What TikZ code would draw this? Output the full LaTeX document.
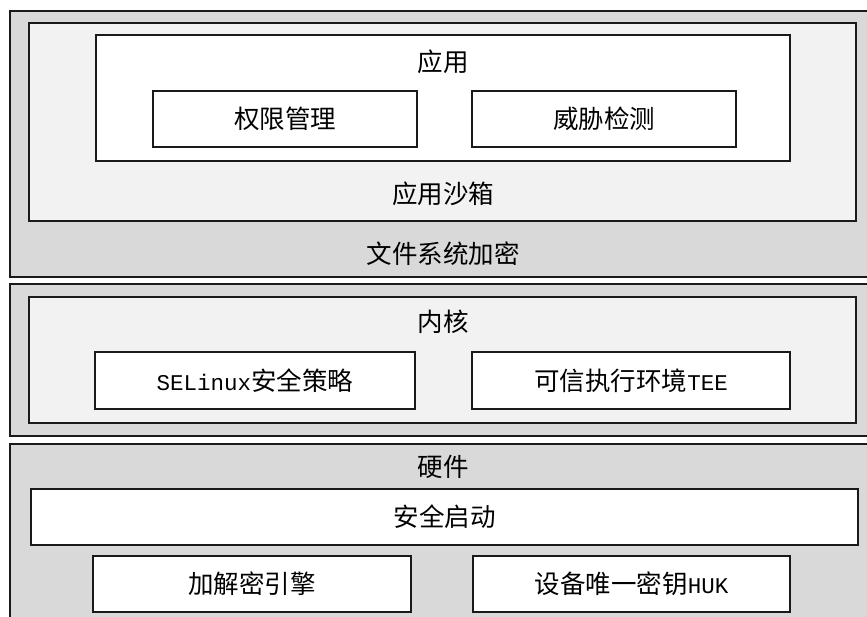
\documentclass[tikz,border=0pt]{standalone}
\usepackage{fontspec}
\setmainfont{Noto Sans CJK SC}
\newfontfamily\latfont{Liberation Mono}
\newcommand{\lat}[1]{{\latfont\fontsize{22.5}{26}\selectfont #1}}
\definecolor{outergray}{HTML}{D9D9D9}
\definecolor{innergray}{HTML}{F2F2F2}
\definecolor{edge}{HTML}{1A1A1A}
\begin{document}
\begin{tikzpicture}[x=1pt,y=-1pt,
  every node/.style={font=\fontsize{25.5}{28}\selectfont, inner sep=0pt},
  box/.style={draw=edge, line width=1.4pt, rectangle},
  outerbox/.style={box, fill=outergray},
  innerbox/.style={box, fill=innergray},
  whitebox/.style={box, fill=white},
  lbl/.style={}]
\useasboundingbox (0,0) rectangle (867,616);
\clip (0,0) rectangle (867,616);
% layer 1
\node[outerbox, minimum width=870pt, minimum height=266pt] (o1) at (445,144) {};
\node[innerbox, minimum width=827pt, minimum height=198pt] (sb) at (442.5,122) {};
\node[whitebox, minimum width=694pt, minimum height=126pt] (app) at (443,98) {};
\node[whitebox, minimum width=264pt, minimum height=56pt] (perm) at (285,119) {权限管理};
\node[whitebox, minimum width=264pt, minimum height=56pt] (threat) at (604,119) {威胁检测};
\node[lbl] (appl) at (443,62) {应用};
\node[lbl] (sbl) at (443,194) {应用沙箱};
\node[lbl] (fsl) at (443,254) {文件系统加密};
% layer 2
\node[outerbox, minimum width=870pt, minimum height=152pt] (o2) at (445,360) {};
\node[innerbox, minimum width=827pt, minimum height=126pt] (kern) at (442.5,360) {};
\node[lbl] (kernl) at (443,322) {内核};
\node[whitebox, minimum width=320pt, minimum height=57pt] (selinux) at (255,380.5) {\lat{SELinux}安全策略};
\node[whitebox, minimum width=318pt, minimum height=57pt] (tee) at (631,380.5) {可信执行环境\lat{TEE}};
% layer 3
\node[outerbox, minimum width=870pt, minimum height=196pt] (o3) at (445,542) {};
\node[lbl] (hwl) at (443,467) {硬件};
\node[whitebox, minimum width=827pt, minimum height=56pt] (boot) at (444.5,517) {安全启动};
\node[whitebox, minimum width=318pt, minimum height=56pt] (crypto) at (252,584) {加解密引擎};
\node[whitebox, minimum width=317pt, minimum height=56pt] (huk) at (631.5,584) {设备唯一密钥\lat{HUK}};
\end{tikzpicture}
\end{document}
